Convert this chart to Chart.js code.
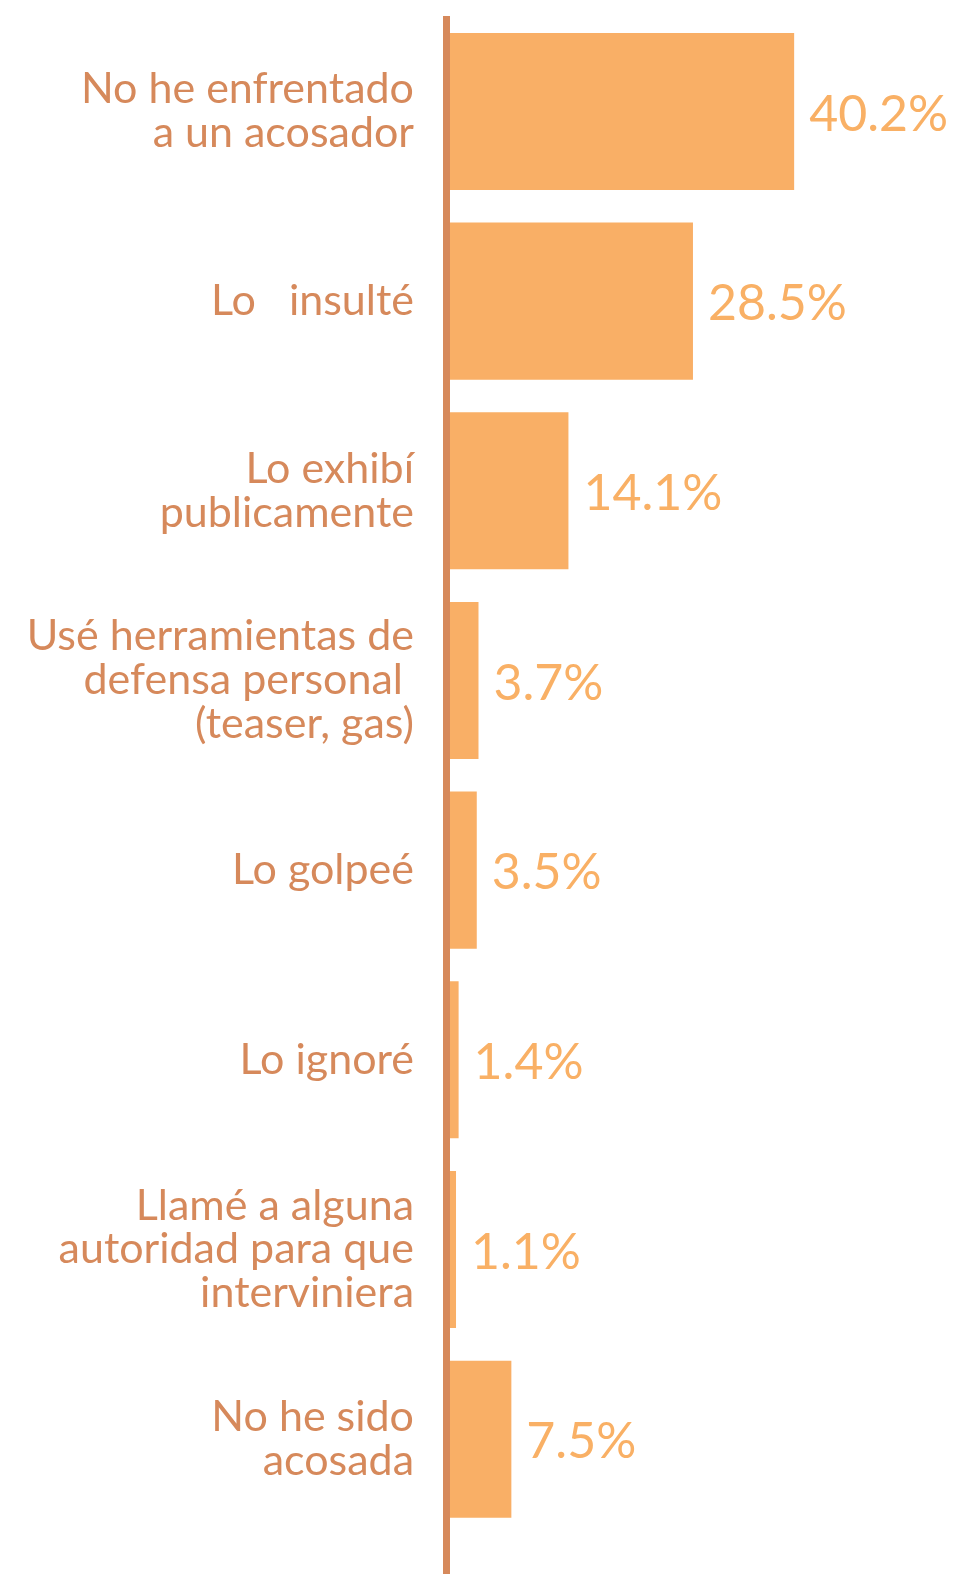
<!DOCTYPE html>
<html>
<head>
<meta charset="utf-8">
<script src="https://cdn.jsdelivr.net/npm/chart.js@4/dist/chart.umd.min.js"></script>
<style>
html,body{margin:0;padding:0;background:#fff;}
#wrap{width:955px;height:1574px;position:relative;}
</style>
</head>
<body>
<div id="wrap"><canvas id="c" width="955" height="1574"></canvas></div>
<script>
const categories = [
  ["No he enfrentado", "a un acosador"],
  ["Lo   insulté"],
  ["Lo exhibí", "publicamente"],
  ["Usé herramientas de", "defensa personal ", "(teaser, gas)"],
  ["Lo golpeé"],
  ["Lo ignoré"],
  ["Llamé a alguna", "autoridad para que", "interviniera"],
  ["No he sido", "acosada"]
];
const values = [40.2, 28.5, 14.1, 3.7, 3.5, 1.4, 1.1, 7.5];
const valueLabels = ["40.2%", "28.5%", "14.1%", "3.7%", "3.5%", "1.4%", "1.1%", "7.5%"];

const LABEL_COLOR = '#D6895B';
const BAR_COLOR = '#F9AF66';
const VALUE_COLOR = '#F9B065';

const axisLine = {
  id: 'axisLine',
  afterDatasetsDraw(chart) {
    const ctx = chart.ctx;
    const x = chart.scales.x.getPixelForValue(0);
    ctx.save();
    ctx.fillStyle = LABEL_COLOR;
    ctx.fillRect(x - 3.5, 16, 7, chart.height - 16);
    ctx.restore();
  }
};

const valueText = {
  id: 'valueText',
  afterDatasetsDraw(chart) {
    const ctx = chart.ctx;
    const meta = chart.getDatasetMeta(0);
    ctx.save();
    ctx.fillStyle = VALUE_COLOR;
    ctx.font = '50px Lato';
    ctx.textAlign = 'left';
    ctx.textBaseline = 'middle';
    meta.data.forEach((el, i) => {
      ctx.fillText(valueLabels[i], el.x + 15, el.y + 3);
    });
    ctx.restore();
  }
};

new Chart(document.getElementById('c'), {
  type: 'bar',
  data: {
    labels: categories,
    datasets: [{
      data: values,
      backgroundColor: BAR_COLOR,
      borderWidth: 0,
      categoryPercentage: 1,
      barPercentage: 0.828
    }]
  },
  plugins: [axisLine, valueText],
  options: {
    indexAxis: 'y',
    responsive: false,
    animation: false,
    layout: { padding: { top: 16.6, bottom: 40, left: 0, right: 0 } },
    plugins: { legend: { display: false }, tooltip: { enabled: false } },
    scales: {
      x: {
        display: false,
        min: 0,
        max: 58.8
      },
      y: {
        afterFit(s) { s.width = 446.5; s.paddingTop = 0; s.paddingBottom = 0; },
        grid: { display: false, drawTicks: false },
        border: { display: false },
        ticks: {
          color: LABEL_COLOR,
          font: { family: 'Lato', size: 43, lineHeight: 1.02 },
          padding: 32.5
        }
      }
    }
  }
});
</script>
</body>
</html>
